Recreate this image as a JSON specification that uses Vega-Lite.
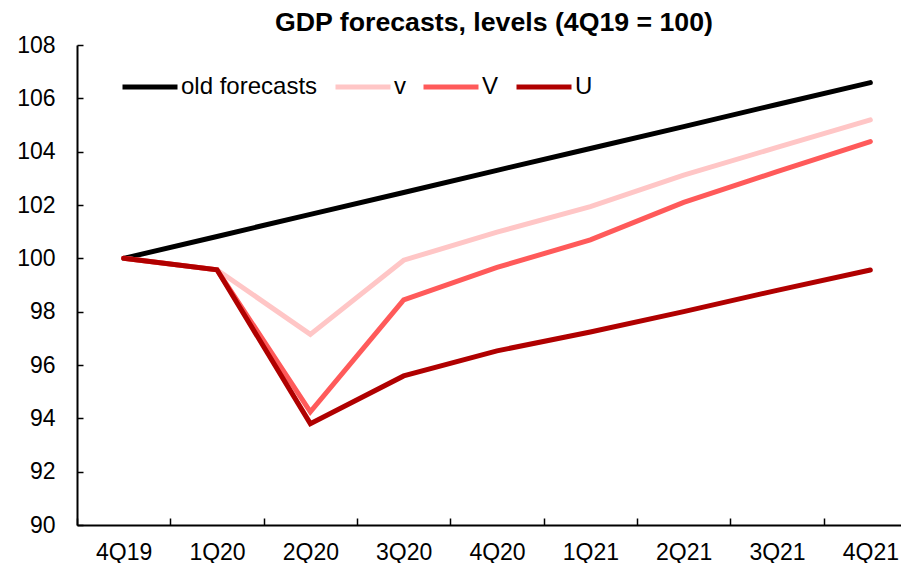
{
  "$schema": "https://vega.github.io/schema/vega-lite/v6.json",
  "autosize": {"type": "none"},
  "width": 824,
  "height": 480,
  "padding": {"left": 77, "top": 45, "right": 0, "bottom": 38},
  "background": "white",
  "title": {
    "text": "GDP forecasts, levels (4Q19 = 100)",
    "font": "Liberation Sans",
    "fontSize": 26.7,
    "fontWeight": "bold",
    "color": "black",
    "anchor": "middle",
    "offset": -3,
    "dx": 5
  },
  "config": {
    "view": {"stroke": null},
    "font": "Liberation Sans"
  },
  "data": {
    "values": [
      {"q": "4Q19", "series": "old forecasts", "value": 100},
      {"q": "1Q20", "series": "old forecasts", "value": 100.82},
      {"q": "2Q20", "series": "old forecasts", "value": 101.65},
      {"q": "3Q20", "series": "old forecasts", "value": 102.47},
      {"q": "4Q20", "series": "old forecasts", "value": 103.3},
      {"q": "1Q21", "series": "old forecasts", "value": 104.12},
      {"q": "2Q21", "series": "old forecasts", "value": 104.94},
      {"q": "3Q21", "series": "old forecasts", "value": 105.77},
      {"q": "4Q21", "series": "old forecasts", "value": 106.59},
      {"q": "4Q19", "series": "v", "value": 100},
      {"q": "1Q20", "series": "v", "value": 99.57},
      {"q": "2Q20", "series": "v", "value": 97.15},
      {"q": "3Q20", "series": "v", "value": 99.93},
      {"q": "4Q20", "series": "v", "value": 100.98},
      {"q": "1Q21", "series": "v", "value": 101.94},
      {"q": "2Q21", "series": "v", "value": 103.12},
      {"q": "3Q21", "series": "v", "value": 104.16},
      {"q": "4Q21", "series": "v", "value": 105.19},
      {"q": "4Q19", "series": "V", "value": 100},
      {"q": "1Q20", "series": "V", "value": 99.57},
      {"q": "2Q20", "series": "V", "value": 94.24},
      {"q": "3Q20", "series": "V", "value": 98.44},
      {"q": "4Q20", "series": "V", "value": 99.66},
      {"q": "1Q21", "series": "V", "value": 100.69},
      {"q": "2Q21", "series": "V", "value": 102.1},
      {"q": "3Q21", "series": "V", "value": 103.25},
      {"q": "4Q21", "series": "V", "value": 104.38},
      {"q": "4Q19", "series": "U", "value": 100},
      {"q": "1Q20", "series": "U", "value": 99.57},
      {"q": "2Q20", "series": "U", "value": 93.8},
      {"q": "3Q20", "series": "U", "value": 95.59},
      {"q": "4Q20", "series": "U", "value": 96.53},
      {"q": "1Q21", "series": "U", "value": 97.24},
      {"q": "2Q21", "series": "U", "value": 98.0},
      {"q": "3Q21", "series": "U", "value": 98.8},
      {"q": "4Q21", "series": "U", "value": 99.56}
    ]
  },
  "mark": {"type": "line", "strokeWidth": 5, "strokeCap": "round", "strokeJoin": "miter"},
  "encoding": {
    "x": {
      "field": "q",
      "type": "nominal",
      "sort": null,
      "scale": {"type": "band", "paddingInner": 0, "paddingOuter": 0, "rangeMax": 840},
      "axis": {
        "title": null,
        "labelAngle": 0,
        "labelFontSize": 23,
        "labelColor": "black",
        "labelPadding": 23,
        "tickBand": "extent",
        "tickSize": -7,
        "tickColor": "black",
        "tickWidth": 1.5,
        "domainColor": "black",
        "domainWidth": 2,
        "grid": false
      }
    },
    "y": {
      "field": "value",
      "type": "quantitative",
      "scale": {"domain": [90, 108], "nice": false, "zero": false},
      "axis": {
        "title": null,
        "values": [90, 92, 94, 96, 98, 100, 102, 104, 106, 108],
        "labelFontSize": 23,
        "labelColor": "black",
        "labelPadding": 28,
        "tickSize": -6,
        "tickColor": "black",
        "tickWidth": 1.5,
        "domainColor": "black",
        "domainWidth": 2,
        "grid": false
      }
    },
    "color": {
      "field": "series",
      "type": "nominal",
      "scale": {
        "domain": ["old forecasts", "v", "V", "U"],
        "range": ["#000000", "#FFC6C6", "#FF5A5A", "#B00000"]
      },
      "legend": {
        "title": null,
        "orient": "none",
        "direction": "horizontal",
        "legendX": 43,
        "legendY": 12,
        "symbolType": "stroke",
        "symbolSize": 3025,
        "symbolStrokeWidth": 5,
        "labelFontSize": 24,
        "labelColor": "black",
        "labelOffset": 1,
        "columnPadding": 7,
        "labelLimit": 300
      }
    }
  }
}
